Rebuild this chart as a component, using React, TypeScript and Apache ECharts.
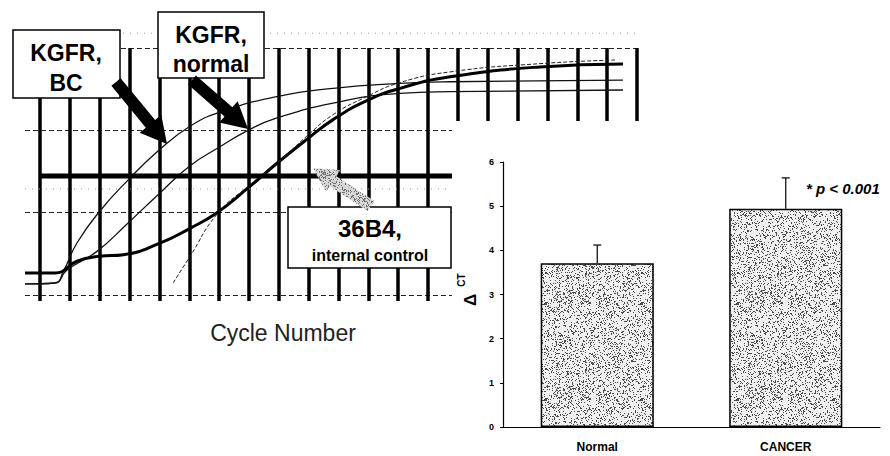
import React, { useEffect, useRef } from "react";
import * as echarts from "echarts";

// ---- Left panel: amplification curves (x = cycle, y = relative fluorescence) ----
const kgfrBC: number[][] = [
  [-0.5, 0.134], [0.5, 0.146], [0.8, 0.3], [1.24, 0.632], [2.01, 1.02],
  [2.91, 1.38], [4.02, 1.77], [5.03, 2.05], [6.03, 2.22], [7.94, 2.41],
  [9.82, 2.51], [12.06, 2.57], [13.74, 2.59], [19.53, 2.611],
];
const kgfrNormal: number[][] = [
  [-0.5, 0.134], [0.5, 0.146], [0.9, 0.3], [1.91, 0.53], [2.91, 0.86],
  [4.02, 1.24], [5.03, 1.57], [6.03, 1.8], [6.97, 2.0], [7.94, 2.15],
  [9.82, 2.33], [12.06, 2.45], [13.74, 2.47], [19.53, 2.49],
];
const control36B4: number[][] = [
  [-0.5, 0.267], [0.5, 0.267], [1.24, 0.41], [2.0, 0.47], [2.8, 0.49],
  [4.02, 0.63], [5.03, 0.81], [5.93, 1.0], [6.97, 1.3], [7.94, 1.6],
  [8.94, 1.89], [9.82, 2.13], [10.95, 2.36], [12.06, 2.51], [13.74, 2.65],
  [16.75, 2.77], [19.53, 2.806],
];
const control36B4Rep: number[][] = [
  [4.46, 0.146], [5.03, 0.47], [5.93, 0.98], [6.97, 1.32], [8.0, 1.62],
  [8.94, 1.93], [9.82, 2.19], [10.95, 2.41], [12.06, 2.58], [13.74, 2.71],
  [16.75, 2.81], [19.26, 2.854],
];
const thresholdLevel = 1.445;
const faintLevels = [1.287, 3.18];
const cycleRange = [0, 20];

// ---- Right panel: delta CT bars ----
const barCategories = ["Normal", "CANCER"];
const deltaCt = [3.71, 4.94];
const deltaCtErr = [0.41, 0.7];
const significance = "* p < 0.001";

const FONT = "'Liberation Sans', Arial, Helvetica, sans-serif";

function arrowPoints(x1: number, y1: number, x2: number, y2: number, sw: number, hl: number, hw: number) {
  const dx = x2 - x1, dy = y2 - y1;
  const L = Math.sqrt(dx * dx + dy * dy);
  const ux = dx / L, uy = dy / L;
  const nx = -uy, ny = ux;
  const bx = x2 - ux * hl, by = y2 - uy * hl;
  return [
    [x1 + nx * sw, y1 + ny * sw],
    [bx + nx * sw, by + ny * sw],
    [bx + nx * hw, by + ny * hw],
    [x2, y2],
    [bx - nx * hw, by - ny * hw],
    [bx - nx * sw, by - ny * sw],
    [x1 - nx * sw, y1 - ny * sw],
  ];
}

function makeStipple(base: string, dark: string, density: number, seed: number) {
  const size = 96;
  const c = document.createElement("canvas");
  c.width = size;
  c.height = size;
  const ctx = c.getContext("2d")!;
  ctx.fillStyle = base;
  ctx.fillRect(0, 0, size, size);
  ctx.fillStyle = dark;
  let s = seed >>> 0;
  const n = Math.floor(size * size * density);
  for (let i = 0; i < n; i++) {
    s = (Math.imul(s, 1664525) + 1013904223) >>> 0;
    const x = (s >>> 8) % size;
    s = (Math.imul(s, 1664525) + 1013904223) >>> 0;
    const y = (s >>> 8) % size;
    ctx.fillRect(x, y, 1, 1);
  }
  return c;
}

export default function App() {
  const ref = useRef<HTMLDivElement>(null);
  useEffect(() => {
    if (!ref.current) return;
    const chart = echarts.init(ref.current, null, { renderer: "svg" });
    const stipple = makeStipple("#f0f0f0", "#4a4a4a", 0.22, 20240611);
    const arrowStipple = makeStipple("#d6d6d6", "#707070", 0.3, 777);

    const curveBase = {
      type: "line",
      xAxisIndex: 0,
      yAxisIndex: 0,
      showSymbol: false,
      symbol: "none",
      smooth: 0.5,
      silent: true,
      z: 2,
    };

    const option: any = {
      animation: false,
      backgroundColor: "#fff",
      grid: [
        { left: 25, top: 48, width: 612, height: 247 },
        { left: 40, top: 48, width: 597, height: 247 },
        { left: 503, top: 162, width: 377, height: 265 },
      ],
      xAxis: [
        {
          gridIndex: 0, type: "value", min: -0.5, max: cycleRange[1],
          axisLine: { show: false }, axisTick: { show: false }, axisLabel: { show: false },
          splitLine: { show: false },
        },
        {
          gridIndex: 1, type: "value", min: cycleRange[0], max: cycleRange[1], interval: 1,
          axisLine: { show: false },
          axisTick: { show: true, length: 6, lineStyle: { color: "#000", width: 3.5 } },
          axisLabel: { show: false },
          splitLine: { show: true, lineStyle: { color: "#000", width: 3.5 } },
        },
        {
          gridIndex: 2, type: "category", data: barCategories, z: 10,
          axisLine: { show: true, lineStyle: { color: "#000", width: 1.2 } },
          axisTick: { show: false },
          axisLabel: { color: "#000", fontFamily: FONT, fontWeight: "bold", fontSize: 12, margin: 14 },
        },
      ],
      yAxis: [
        {
          gridIndex: 0, type: "value", min: 0, max: 3, interval: 1,
          axisLine: { show: false }, axisTick: { show: false }, axisLabel: { show: false },
          splitLine: { show: true, lineStyle: { color: "#222", width: 1.2, type: [5, 3] } },
        },
        {
          gridIndex: 1, type: "value", min: 0, max: 3, show: false,
        },
        {
          gridIndex: 2, type: "value", min: 0, max: 6, interval: 1, z: 10,
          axisLine: { show: true, lineStyle: { color: "#000", width: 1.2 } },
          axisTick: { show: true, length: 3, lineStyle: { color: "#000" } },
          axisLabel: { color: "#000", fontFamily: FONT, fontWeight: "bold", fontSize: 9, margin: 9 },
          splitLine: { show: false },
        },
      ],
      series: [
        { ...curveBase, name: "KGFR, BC", data: kgfrBC, lineStyle: { color: "#111", width: 1.3 } },
        { ...curveBase, name: "KGFR, normal", data: kgfrNormal, lineStyle: { color: "#111", width: 1.3 } },
        { ...curveBase, name: "36B4", data: control36B4, lineStyle: { color: "#000", width: 3 } },
        { ...curveBase, name: "36B4 rep", data: control36B4Rep, lineStyle: { color: "#222", width: 1, type: [4, 2] } },
        {
          ...curveBase, name: "threshold", smooth: false,
          data: [[cycleRange[0], thresholdLevel], [cycleRange[1], thresholdLevel]],
          lineStyle: { color: "#000", width: 5 },
        },
        ...faintLevels.map((lv, i) => ({
          ...curveBase, name: "faint" + i, smooth: false, clip: false,
          data: [[-0.5, lv], [cycleRange[1], lv]],
          lineStyle: { color: "#999", width: 1, type: [1, 6] },
        })),
        {
          type: "bar", name: "ΔCT", xAxisIndex: 2, yAxisIndex: 2, data: deltaCt, barWidth: "60%", z: 10,
          itemStyle: {
            color: { image: stipple, repeat: "repeat" },
            borderColor: "#000", borderWidth: 1.5,
          },
          silent: true,
        },
        {
          type: "custom", name: "err", xAxisIndex: 2, yAxisIndex: 2, z: 11, silent: true,
          data: deltaCt.map((v, i) => [i, v, deltaCtErr[i]]),
          encode: { x: 0, y: 1 },
          renderItem: (params: any, api: any) => {
            const i = api.value(0), v = api.value(1), e = api.value(2);
            const p0 = api.coord([i, v]);
            const p1 = api.coord([i, v + e]);
            const st = { stroke: "#000", lineWidth: 1.2 };
            return {
              type: "group",
              children: [
                { type: "line", shape: { x1: p0[0], y1: p0[1], x2: p1[0], y2: p1[1] }, style: st },
                { type: "line", shape: { x1: p1[0] - 4, y1: p1[1], x2: p1[0] + 4, y2: p1[1] }, style: st },
              ],
            };
          },
        },
      ],
      graphic: [
        { type: "rect", z: 5, silent: true, shape: { x: 452, y: 121, width: 438, height: 335 }, style: { fill: "#fff" } },
        // label boxes
        { type: "rect", z: 6, shape: { x: 13, y: 30, width: 107, height: 68 }, style: { fill: "#fff", stroke: "#000", lineWidth: 1.5 } },
        { type: "rect", z: 6, shape: { x: 158, y: 12, width: 106, height: 66 }, style: { fill: "#fff", stroke: "#000", lineWidth: 1.5 } },
        { type: "rect", z: 6, shape: { x: 288, y: 207, width: 163, height: 61 }, style: { fill: "#fff", stroke: "#000", lineWidth: 1.5 } },
        { type: "text", z: 7, x: 66, y: 53, style: { text: "KGFR,", font: `bold 23px ${FONT}`, fill: "#000", align: "center", verticalAlign: "middle" } },
        { type: "text", z: 7, x: 66, y: 83, style: { text: "BC", font: `bold 23px ${FONT}`, fill: "#000", align: "center", verticalAlign: "middle" } },
        { type: "text", z: 7, x: 211, y: 35, style: { text: "KGFR,", font: `bold 23px ${FONT}`, fill: "#000", align: "center", verticalAlign: "middle" } },
        { type: "text", z: 7, x: 211, y: 64, style: { text: "normal", font: `bold 23px ${FONT}`, fill: "#000", align: "center", verticalAlign: "middle" } },
        { type: "text", z: 7, x: 370, y: 228, style: { text: "36B4,", font: `bold 24px ${FONT}`, fill: "#000", align: "center", verticalAlign: "middle" } },
        { type: "text", z: 7, x: 370, y: 255, style: { text: "internal control", font: `bold 16px ${FONT}`, fill: "#000", align: "center", verticalAlign: "middle" } },
        // arrows
        { type: "polygon", z: 7, shape: { points: arrowPoints(116, 82, 167, 144, 6, 26, 14) }, style: { fill: "#000" } },
        { type: "polygon", z: 7, shape: { points: arrowPoints(192, 80, 248, 129, 6, 26, 14) }, style: { fill: "#000" } },
        { type: "polygon", z: 7, shape: { points: arrowPoints(371, 206, 313, 168, 6, 24, 13) }, style: { fill: { image: arrowStipple, repeat: "repeat" } } },
        // axis titles
        { type: "text", z: 7, x: 283, y: 333, style: { text: "Cycle Number", font: `23px ${FONT}`, fill: "#222", align: "center", verticalAlign: "middle" } },
        { type: "text", z: 12, x: 470, y: 300, rotation: Math.PI / 2, style: { text: "Δ", font: `bold 17px ${FONT}`, fill: "#000", align: "center", verticalAlign: "middle" } },
        { type: "text", z: 12, x: 461, y: 280, rotation: Math.PI / 2, style: { text: "CT", font: `bold 10px ${FONT}`, fill: "#000", align: "center", verticalAlign: "middle" } },
        { type: "text", z: 12, x: 806, y: 188, style: { text: significance, font: `italic bold 15px ${FONT}`, fill: "#000", align: "left", verticalAlign: "middle" } },
      ],
    };
    chart.setOption(option);
    return () => chart.dispose();
  }, []);
  return <div ref={ref} style={{ position: "fixed", left: 0, top: 0, width: 890, height: 456 }} />;
}
